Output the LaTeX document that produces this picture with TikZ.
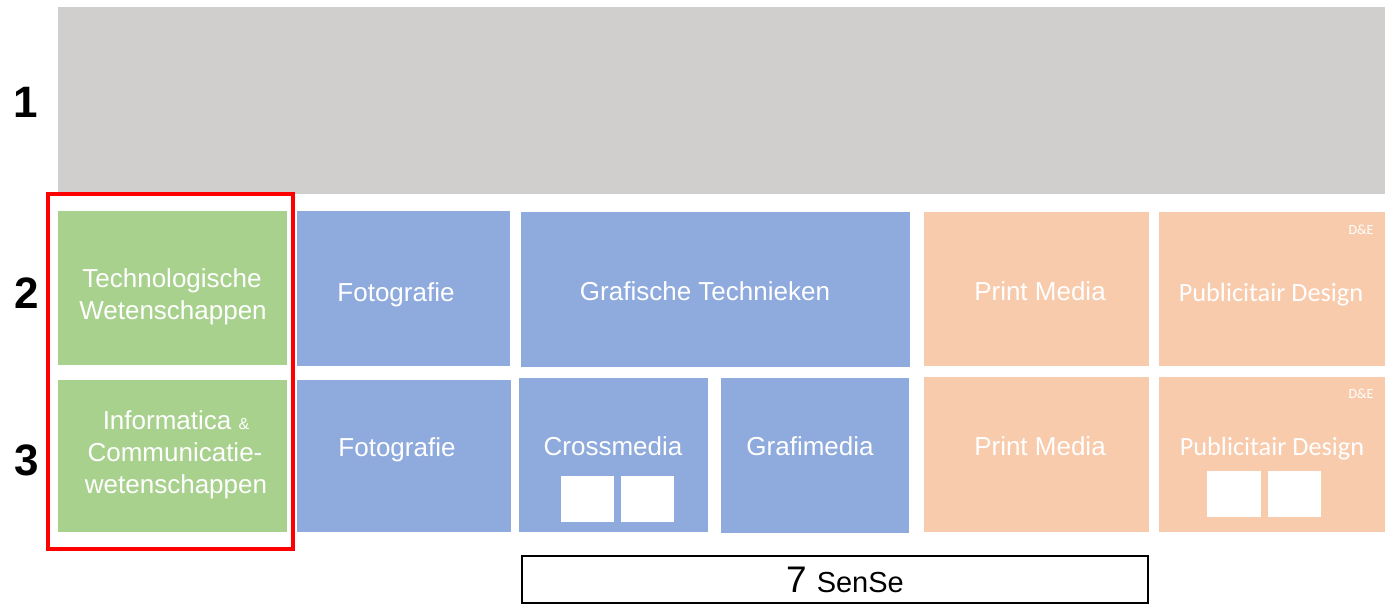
\documentclass[tikz,border=0pt]{standalone}
\usepackage{fontspec}
\setmainfont{Liberation Sans}
\newfontfamily\calibri{Carlito}
\definecolor{greyc}{HTML}{D0CFCE}
\definecolor{greenc}{HTML}{A9D18E}
\definecolor{bluec}{HTML}{8FAADC}
\definecolor{orangec}{HTML}{F8CBAD}
\definecolor{redc}{HTML}{FF0000}
\newcommand\blk[5]{\node[blockbox,fill=#5,minimum width=#3pt,minimum height=#4pt,anchor=north west] (#1) at (#2) {};}
\begin{document}
\begin{tikzpicture}[x=1pt,y=-1pt,
  blockbox/.style={inner sep=0pt, outer sep=0pt, draw=none},
  whitesq/.style={inner sep=0pt, outer sep=0pt, draw=none, fill=white},
  lbl/.style={anchor=base, text=white, inner sep=0pt, font=\fontsize{26}{32}\selectfont},
  clbl/.style={anchor=base, text=white, inner sep=0pt, font=\calibri\fontsize{26.3}{30}\selectfont},
  tag/.style={anchor=base, text=white, inner sep=0pt, font=\calibri\fontsize{14}{14}\selectfont},
  num/.style={anchor=base, text=black, inner sep=0pt, font=\bfseries\fontsize{44}{44}\selectfont}]
\useasboundingbox (0,0) rectangle (1391,606);
\fill[white] (0,0) rectangle (1391,606);
% blocks
\blk{top}{58,7}{1327}{187}{greyc}
\blk{g1}{58,211}{229}{154}{greenc}
\blk{g2}{58,380}{229}{152}{greenc}
\blk{f1}{297,211}{213}{155}{bluec}
\blk{f2}{297,380}{214}{152}{bluec}
\blk{gt}{521,212}{389}{155}{bluec}
\blk{cm}{519,378}{189}{154}{bluec}
\blk{gm}{721,378}{188}{155}{bluec}
\blk{p1}{924,212}{225}{154}{orangec}
\blk{p2}{924,377}{225}{155}{orangec}
\blk{d1}{1159,212}{226}{154}{orangec}
\blk{d2}{1159,377}{226}{155}{orangec}
% white squares
\node[whitesq,minimum width=53pt,minimum height=46pt,anchor=north west] (sq1) at (561,476) {};
\node[whitesq,minimum width=53pt,minimum height=46pt,anchor=north west] (sq2) at (621,476) {};
\node[whitesq,minimum width=54pt,minimum height=46pt,anchor=north west] (sq3) at (1207,471) {};
\node[whitesq,minimum width=53pt,minimum height=46pt,anchor=north west] (sq4) at (1268,471) {};
% red frame
\node[draw=redc,line width=4pt,inner sep=0pt,minimum width=245pt,minimum height=355pt] (frame) at (170.5,371.5) {};
% SenSe box
\node[draw=black,line width=2pt,fill=white,inner sep=0pt,minimum width=626pt,minimum height=47pt] (sense) at (835,579.5) {};
% texts
\node[lbl] (t1a) at (172,287) {Technologische};
\node[lbl] (t1b) at (173,319) {Wetenschappen};
\node[lbl] (t2a) at (176,429) {Informatica {\fontsize{16}{16}\selectfont\&}};
\node[lbl] (t2b) at (175,461) {Communicatie-};
\node[lbl] (t2c) at (176,493) {wetenschappen};
\node[lbl] (tf1) at (396,301) {Fotografie};
\node[lbl] (tf2) at (397,456) {Fotografie};
\node[lbl] (tgt) at (705,300) {Grafische Technieken};
\node[lbl] (tcm) at (613,455) {Crossmedia};
\node[lbl] (tgm) at (810,455) {Grafimedia};
\node[lbl] (tp1) at (1040,300) {Print Media};
\node[lbl] (tp2) at (1040,455) {Print Media};
\node[clbl] (td1) at (1271,301) {Publicitair Design};
\node[clbl] (td2) at (1272,455) {Publicitair Design};
\node[tag] (de1) at (1361,234) {D\&E};
\node[tag] (de2) at (1361,398) {D\&E};
\node[anchor=base,inner sep=0pt] (ts) at (845,592) {{\fontsize{37}{37}\selectfont 7}\hspace{10pt}{\fontsize{29}{29}\selectfont SenSe}};
% row numbers
\node[num] (n1) at (26,117) {1};
\node[num] (n2) at (27,308) {2};
\node[num] (n3) at (27,475) {3};
\end{tikzpicture}
\end{document}
